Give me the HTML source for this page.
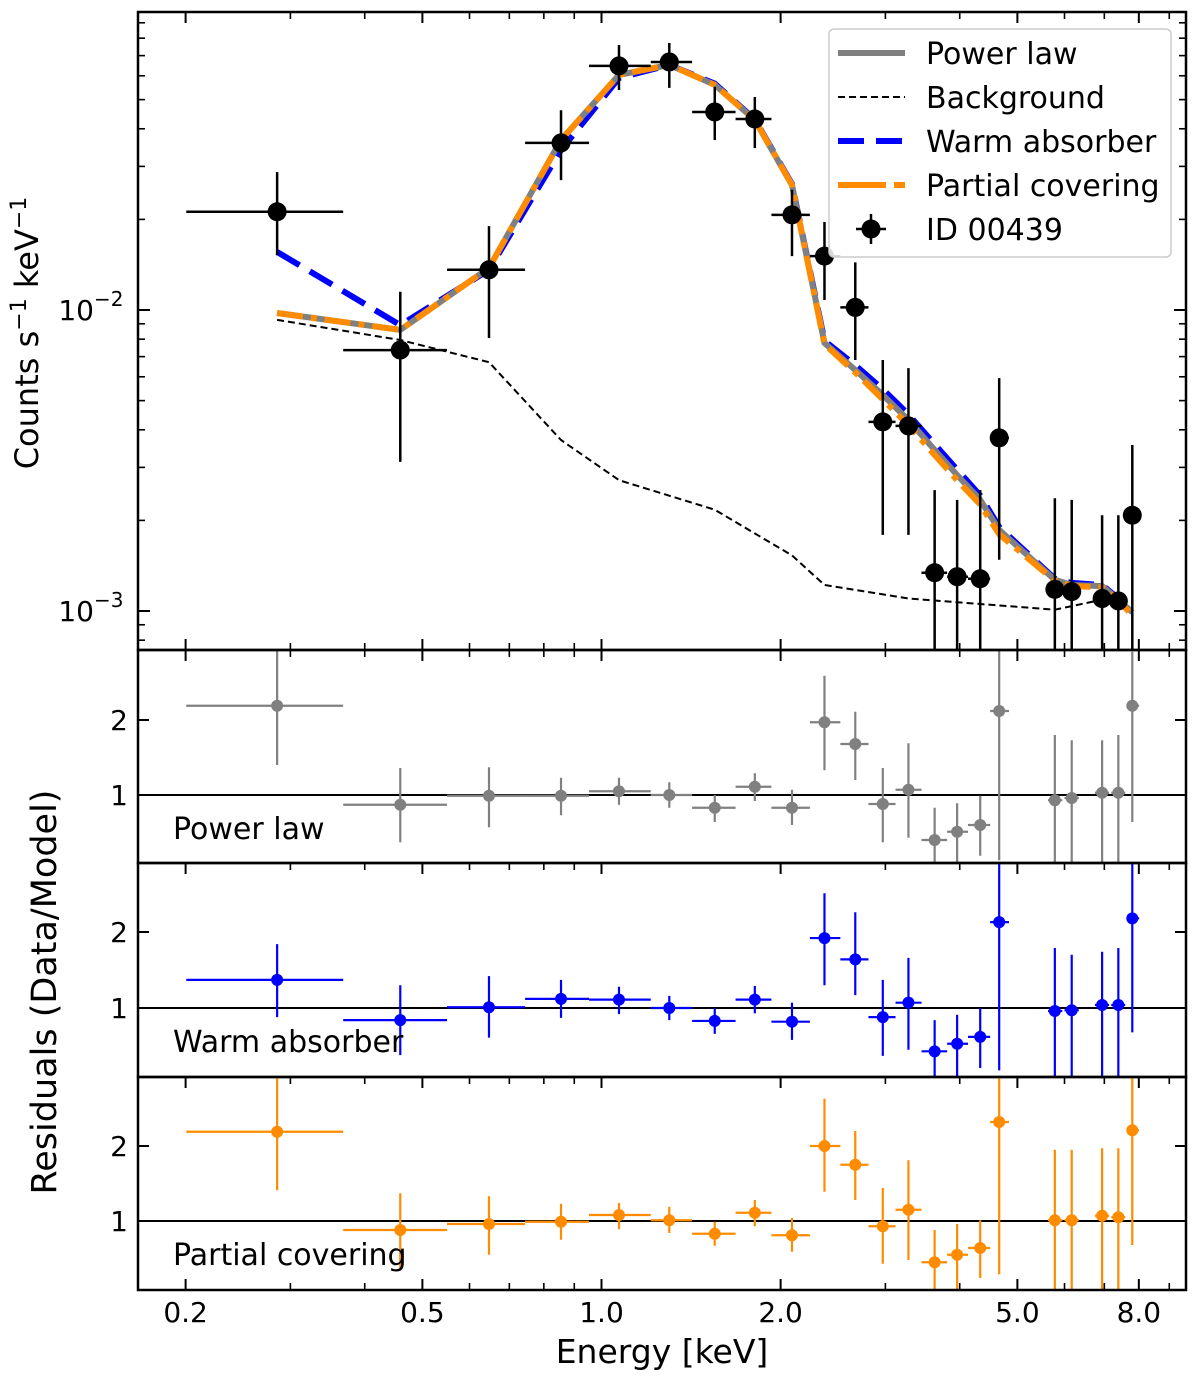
<!DOCTYPE html>
<html><head><meta charset="utf-8">
<style>
html,body{margin:0;padding:0;background:#fff;}
svg text{font-family:"DejaVu Sans","Liberation Sans",sans-serif;}
</style></head>
<body>
<svg id="chart" width="1200" height="1382" viewBox="0 0 1200 1382" xmlns="http://www.w3.org/2000/svg">
<g id="layer"></g>
</svg>
<script>
// ---------- data ----------
const energy = [0.285,0.459,0.647,0.855,1.07,1.30,1.55,1.81,2.09,2.37,2.67,2.97,3.28,3.63,3.96,4.33,4.66,5.78,6.17,6.94,7.39,7.80];
const eLo    = [0.2005,0.368,0.550,0.744,0.953,1.21,1.42,1.68,1.93,2.24,2.52,2.81,3.12,3.45,3.81,4.13,4.50,5.63,6.00,6.75,7.19,7.63];
const eHi    = [0.368,0.550,0.744,0.953,1.21,1.42,1.68,1.93,2.24,2.52,2.81,3.12,3.45,3.81,4.13,4.50,4.84,5.95,6.34,7.13,7.59,8.01];
const counts = [0.0212,0.00736,0.0136,0.0359,0.0647,0.0667,0.0455,0.0431,0.0207,0.0151,0.0102,0.00425,0.00412,0.00134,0.00130,0.00128,0.00376,0.00118,0.00116,0.00110,0.00108,0.00208];
const cHi    = [0.0287,0.0115,0.0190,0.0461,0.0759,0.0771,0.0551,0.0510,0.0251,0.0196,0.0144,0.00682,0.00641,0.00252,0.00234,0.00252,0.00594,0.00237,0.00234,0.00208,0.00208,0.00356];
const cLo    = [0.0152,0.00313,0.00807,0.0270,0.0538,0.0547,0.0367,0.0345,0.0151,0.0108,0.00682,0.00179,0.00179,0.0005,0.0005,0.0005,0.00148,0.0005,0.0005,0.0005,0.0005,0.0005];
const powerLaw   = [0.00977,0.00859,0.0138,0.0367,0.0604,0.0652,0.0560,0.0428,0.0260,0.00777,0.00632,0.00522,0.00431,0.00343,0.00283,0.00234,0.00186,0.00127,0.00122,0.00121,0.00109,0.00099];
const warmAbs    = [0.0156,0.00891,0.0136,0.0340,0.0590,0.0652,0.0565,0.0430,0.0262,0.00790,0.00655,0.00545,0.00450,0.00358,0.00295,0.00242,0.00190,0.00128,0.00124,0.00122,0.00110,0.00099];
const partialCov = [0.00977,0.00859,0.0138,0.0367,0.0604,0.0652,0.0560,0.0428,0.0260,0.00770,0.00620,0.00505,0.00415,0.00330,0.00272,0.00226,0.00180,0.00126,0.00121,0.00120,0.00108,0.00097];
const bgEnergy = [0.285,0.459,0.647,0.855,1.07,1.55,2.09,2.37,3.28,5.78,6.94,7.80];
const bgCounts = [0.00927,0.00795,0.00671,0.00370,0.00272,0.00217,0.00153,0.00122,0.00110,0.00101,0.00109,0.00099];
const resPL  = [2.19,0.87,0.99,0.99,1.05,1.00,0.83,1.11,0.83,1.97,1.68,0.88,1.07,0.40,0.51,0.60,2.12,0.93,0.96,1.03,1.03,2.19];
const resPLHi= [2.93,1.36,1.37,1.23,1.23,1.17,1.00,1.29,1.07,2.59,2.11,1.36,1.69,0.83,0.89,0.99,2.93,1.80,1.73,1.73,1.80,2.91];
const resPLLo= [1.40,0.37,0.57,0.73,0.87,0.83,0.64,0.92,0.60,1.33,1.20,0.37,0.43,0.09,0.09,0.19,0.13,0.09,0.09,0.09,0.09,0.64];
const resWA  = [1.37,0.84,1.01,1.12,1.11,1.00,0.83,1.11,0.82,1.92,1.64,0.88,1.07,0.43,0.53,0.62,2.13,0.96,0.97,1.04,1.04,2.18];
const resWAHi= [1.84,1.30,1.42,1.37,1.28,1.16,1.00,1.29,1.07,2.51,2.26,1.37,1.66,0.84,0.91,1.00,2.91,1.79,1.70,1.74,1.79,2.91];
const resWALo= [0.88,0.38,0.61,0.87,0.92,0.84,0.66,0.93,0.58,1.30,1.17,0.37,0.45,0.09,0.09,0.21,0.18,0.09,0.09,0.09,0.09,0.68];
const resPC  = [2.19,0.88,0.96,0.99,1.08,1.01,0.83,1.11,0.81,2.00,1.75,0.93,1.15,0.45,0.55,0.64,2.32,1.01,1.01,1.07,1.05,2.21];
const resPCHi= [2.92,1.37,1.33,1.23,1.24,1.19,0.99,1.28,1.04,2.63,2.20,1.44,1.81,0.88,0.96,1.01,2.92,1.95,1.95,1.97,1.97,2.92];
const resPCLo= [1.41,0.37,0.55,0.75,0.89,0.84,0.67,0.93,0.59,1.39,1.28,0.43,0.48,0.08,0.08,0.24,0.29,0.08,0.08,0.08,0.08,0.68];
const xTickVals = [0.2,0.5,1.0,2.0,5.0,8.0];
const xTickLabels = ["0.2","0.5","1.0","2.0","5.0","8.0"];
const xMinor = [0.3,0.4,0.6,0.7,0.8,0.9,3,4,6,7,9];
const resTicks = [1,2];

// ---------- axes ----------
const L=138,R=1186;
const X=e=>601.5+595*Math.log10(e);
const mainTop=12, mainBot=650;
const Y=v=>310-301*(Math.log10(v)+2);
const panels=[[650,863,795,75],[863,1077,1008,76],[1077,1290,1221,75]];
const NS="http://www.w3.org/2000/svg";
const layer=document.getElementById('layer');
function mk(tag,attrs,parent){const el=document.createElementNS(NS,tag);for(const k in attrs)el.setAttribute(k,attrs[k]);(parent||layer).appendChild(el);return el;}

const defs=mk('defs',{});
function clip(id,y0,y1){const c=mk('clipPath',{id:id},defs);mk('rect',{x:L,y:y0,width:R-L,height:y1-y0},c);}
clip('cmain',mainTop,mainBot);panels.forEach((p,i)=>clip('cp'+i,p[0],p[1]));

// ---------- main panel ----------
const gMain=mk('g',{'clip-path':'url(#cmain)'});


function poly(xs,ys,style,name,parent){
  const pts=xs.map((e,i)=>X(e).toFixed(1)+','+Y(ys[i]).toFixed(1)).join(' ');
  const p=mk('polyline',Object.assign({points:pts,fill:'none'},style),parent);
  
  
  return p;
}
poly(bgEnergy,bgCounts,{stroke:'#000','stroke-width':2,'stroke-dasharray':'7,4'},'background-line',gMain);
poly(energy,warmAbs,{stroke:'#0000ff','stroke-width':6,'stroke-dasharray':'26,12'},'warm-absorber-line',gMain);
poly(energy,powerLaw,{stroke:'#808080','stroke-width':6},'power-law-line',gMain);
poly(energy,partialCov,{stroke:'#ff8c00','stroke-width':6,'stroke-dasharray':'26,8,6,8'},'partial-covering-line',gMain);
energy.forEach((e,i)=>{
  const g=mk('g',{},gMain);
  
  
  mk('line',{x1:X(eLo[i]),x2:X(eHi[i]),y1:Y(counts[i]),y2:Y(counts[i]),stroke:'#000','stroke-width':2.5},g);
  mk('line',{x1:X(e),x2:X(e),y1:Y(cHi[i]),y2:Y(cLo[i]),stroke:'#000','stroke-width':2.5},g);
  mk('circle',{cx:X(e),cy:Y(counts[i]),r:9.5,fill:'#000'},g);
});

// ---------- residual panels ----------
const resSets=[[resPL,resPLHi,resPLLo,'#808080','Power law','power-law'],[resWA,resWAHi,resWALo,'#0000ff','Warm absorber','warm-absorber'],[resPC,resPCHi,resPCLo,'#ff8c00','Partial covering','partial-covering']];
resSets.forEach((s,pi)=>{
  const [y0,y1,one,sc]=panels[pi];
  const RY=r=>one-sc*(r-1);
  const g=mk('g',{'clip-path':'url(#cp'+pi+')'});
  
  
  const ref=mk('line',{x1:L,x2:R,y1:RY(1),y2:RY(1),stroke:'#000','stroke-width':2},g);
  
  
  energy.forEach((e,i)=>{
    const pg=mk('g',{},g);
    
    
    mk('line',{x1:X(eLo[i]),x2:X(eHi[i]),y1:RY(s[0][i]),y2:RY(s[0][i]),stroke:s[3],'stroke-width':2.2},pg);
    mk('line',{x1:X(e),x2:X(e),y1:RY(s[1][i]),y2:RY(s[2][i]),stroke:s[3],'stroke-width':2.2},pg);
    mk('circle',{cx:X(e),cy:RY(s[0][i]),r:6,fill:s[3]},pg);
  });
  const t=mk('text',{x:173,y:one+44,'font-size':30,fill:'#000'});
  t.textContent=s[4];
  
  
  resTicks.forEach(v=>{
    mk('line',{x1:L,x2:L+11,y1:RY(v),y2:RY(v),stroke:'#000','stroke-width':2});
    mk('line',{x1:R-11,x2:R,y1:RY(v),y2:RY(v),stroke:'#000','stroke-width':2});
    const tl=mk('text',{x:L-10,y:RY(v)+10,'font-size':28,'text-anchor':'end'});
    tl.textContent=String(v);
    
    
  });
  xTickVals.forEach(v=>mk('line',{x1:X(v),x2:X(v),y1:y0,y2:y0+11,stroke:'#000','stroke-width':2}));
  xMinor.forEach(v=>mk('line',{x1:X(v),x2:X(v),y1:y0,y2:y0+7,stroke:'#000','stroke-width':1.6}));
  const fr=mk('rect',{x:L,y:y0,width:R-L,height:y1-y0,fill:'none',stroke:'#000','stroke-width':2.5});
  
  
});

const mf=mk('rect',{x:L,y:mainTop,width:R-L,height:mainBot-mainTop,fill:'none',stroke:'#000','stroke-width':2.5});


xTickVals.forEach(v=>{mk('line',{x1:X(v),x2:X(v),y1:mainTop,y2:mainTop+11,stroke:'#000','stroke-width':2});mk('line',{x1:X(v),x2:X(v),y1:mainBot-11,y2:mainBot,stroke:'#000','stroke-width':2});});
xMinor.forEach(v=>{mk('line',{x1:X(v),x2:X(v),y1:mainTop,y2:mainTop+7,stroke:'#000','stroke-width':1.6});mk('line',{x1:X(v),x2:X(v),y1:mainBot-7,y2:mainBot,stroke:'#000','stroke-width':1.6});});
[0.001,0.01].forEach(v=>{mk('line',{x1:L,x2:L+12,y1:Y(v),y2:Y(v),stroke:'#000','stroke-width':2});mk('line',{x1:R-12,x2:R,y1:Y(v),y2:Y(v),stroke:'#000','stroke-width':2});});
[0.0008,0.0009,0.002,0.003,0.004,0.005,0.006,0.007,0.008,0.009,0.02,0.03,0.04,0.05,0.06,0.07,0.08,0.09].forEach(v=>{mk('line',{x1:L,x2:L+7,y1:Y(v),y2:Y(v),stroke:'#000','stroke-width':1.6});mk('line',{x1:R-7,x2:R,y1:Y(v),y2:Y(v),stroke:'#000','stroke-width':1.6});});
[[0.01,'−2'],[0.001,'−3']].forEach(([v,ex])=>{
  const t=mk('text',{x:L-44,y:Y(v)+10,'font-size':28,'text-anchor':'end'});
  t.textContent='10';
  
  
  const s=mk('text',{x:L-44,y:Y(v)-4,'font-size':20,'text-anchor':'start'});
  s.textContent=ex;
});
xTickVals.forEach((v,i)=>{
  mk('line',{x1:X(v),x2:X(v),y1:1290-11,y2:1290,stroke:'#000','stroke-width':2});
  const t=mk('text',{x:X(v),y:1322,'font-size':28,'text-anchor':'middle'});
  t.textContent=xTickLabels[i];
  
  
});
xMinor.forEach(v=>mk('line',{x1:X(v),x2:X(v),y1:1290-7,y2:1290,stroke:'#000','stroke-width':1.6}));

const xt=mk('text',{x:662,y:1363,'font-size':33,'text-anchor':'middle'});
xt.textContent='Energy [keV]';


const yt=mk('text',{transform:'translate(38,333) rotate(-90)','font-size':32,'text-anchor':'middle'});
yt.innerHTML='Counts s<tspan dy="-12" font-size="22">−1</tspan><tspan dy="12"> keV</tspan><tspan dy="-12" font-size="22">−1</tspan>';


const rt=mk('text',{transform:'translate(56,992) rotate(-90)','font-size':35,'text-anchor':'middle'});
rt.textContent='Residuals (Data/Model)';



const lg=mk('g',{});


mk('rect',{x:829,y:29,width:342,height:228,rx:5,fill:'#fff','fill-opacity':0.85,stroke:'#ccc','stroke-width':1.5},lg);
const items=[['Power law',{stroke:'#808080','stroke-width':6}],['Background',{stroke:'#000','stroke-width':2,'stroke-dasharray':'7,4'}],['Warm absorber',{stroke:'#0000ff','stroke-width':6,'stroke-dasharray':'26,12'}],['Partial covering',{stroke:'#ff8c00','stroke-width':6,'stroke-dasharray':'48,8'}],['ID 00439',null]];
items.forEach((it,i)=>{
  const y=53+i*44;
  const eg=mk('g',{},lg);
  
  
  if(it[1]) mk('line',Object.assign({x1:838,x2:905,y1:y,y2:y},it[1]),eg);
  else{mk('line',{x1:856,x2:886,y1:y,y2:y,stroke:'#000','stroke-width':2.5},eg);mk('line',{x1:871,x2:871,y1:y-15,y2:y+15,stroke:'#000','stroke-width':2.5},eg);mk('circle',{cx:871,cy:y,r:9.5,fill:'#000'},eg);}
  const t=mk('text',{x:926,y:y+11,'font-size':30},eg);
  t.textContent=it[0];
});
</script>
</body></html>
